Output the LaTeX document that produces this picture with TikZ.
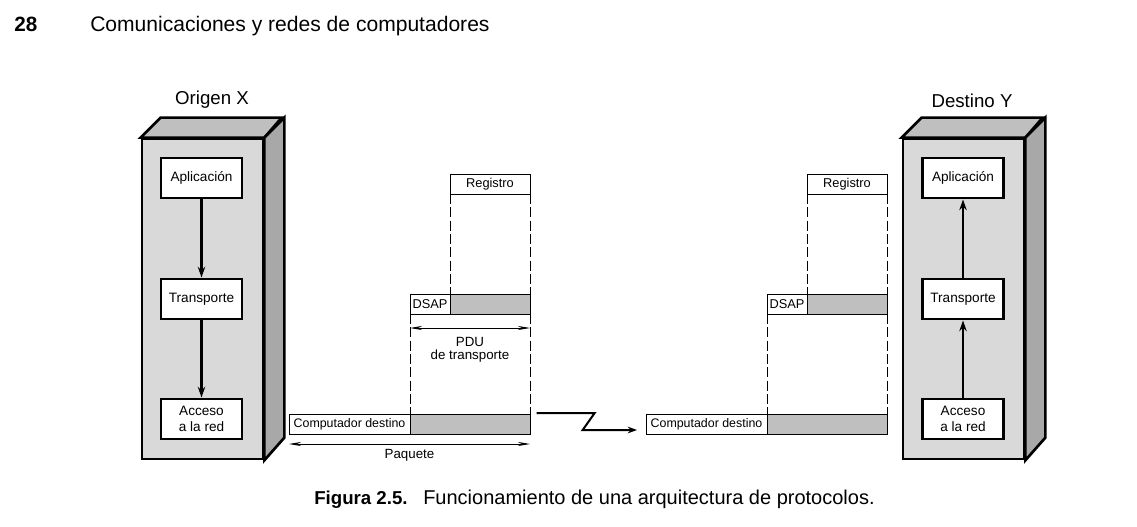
\documentclass[tikz,border=0pt]{standalone}
\usepackage{fontspec}
\setmainfont{Liberation Sans}
\usetikzlibrary{arrows.meta,positioning}

\begin{document}
\begin{tikzpicture}[x=0.75pt, y=-0.75pt, host/.style={draw, line width=2pt, fill=gray!30, minimum width=90.75pt, minimum height=240pt, inner sep=0pt}, topface/.style={draw, line width=2pt, fill=gray!50}, sideface/.style={draw, line width=2pt, fill=gray!68}, layer/.style={draw, line width=2.2pt, fill=white, align=center, minimum width=60.75pt, minimum height=30pt, inner sep=1pt, font=\fontsize{10.2}{11.5}\selectfont}, cell/.style={draw, line width=0.6pt, fill=white, minimum height=15pt, inner sep=1pt, outer sep=0pt, font=\fontsize{9.6}{11}\selectfont}, data/.style={cell, fill=gray!50}, addr/.style={cell, minimum width=90.75pt, font=\fontsize{9.3}{10}\selectfont}, guide/.style={line width=0.6pt, dash pattern=on 7.5pt off 2.5pt}, arr/.style={-{Stealth[length=8pt,width=5.5pt]}, line width=1.8pt}, dim/.style={{Stealth[length=9pt,width=3pt]}-{Stealth[length=9pt,width=3pt]}, line width=0.6pt}, title/.style={font=\fontsize{14}{16}\selectfont}]
\useasboundingbox (0,0) rectangle (1137,527);
% page header
\node[anchor=base west, inner sep=0pt, font=\bfseries\fontsize{15.5}{18}\selectfont] (pagenum) at (14,32) {28};
\node[anchor=base west, inner sep=0pt, font=\fontsize{15.8}{18}\selectfont] (running) at (90,32) {Comunicaciones y redes de computadores};
% hosts
\node[host] (origen) at (202.5,299) {};
\draw[topface] (origen.north west) -- ++(20,-20) -- ++(121,0) -- (origen.north east) -- cycle;
\draw[sideface] (origen.north east) -- ++(20,-20) -- ++(0,320) -- (origen.south east) -- cycle;
\node[title] (titX) at (212,100) {Origen X};
\node[host] (destino) at (963.5,299) {};
\draw[topface] (destino.north west) -- ++(20,-20) -- ++(121,0) -- (destino.north east) -- cycle;
\draw[sideface] (destino.north east) -- ++(20,-20) -- ++(0,320) -- (destino.south east) -- cycle;
\node[title] (titY) at (972,101) {Destino Y};
% layers
\node[layer] (apX) at (201.5,178) {Aplicación};
\node[layer] (trX) at (201.5,299) {Transporte};
\node[layer] (acX) at (201.5,419) {Acceso\\a la red};
\node[layer] (apY) at (963,178) {Aplicación};
\node[layer] (trY) at (963,299) {Transporte};
\node[layer] (acY) at (963,419) {Acceso\\a la red};
\draw[arr] (apX) -- (trX);
\draw[arr] (trX) -- (acX);
\draw[arr] (acY) -- (trY);
\draw[arr] (trY) -- (apY);
% PDUs at the sender
\node[cell, minimum width=60pt] (regX) at (490,184) {Registro};
\node[cell, minimum width=30pt] (dsapX) at (430,304) {DSAP};
\node[data, minimum width=60pt, right=0pt of dsapX] (pduX) {};
\node[addr] (addrX) at (349.5,424) {Computador destino};
\node[data, minimum width=90pt, right=0pt of addrX] (dataX) {};
\draw[guide] (regX.south west) -- (pduX.north west);
\draw[guide] (regX.south east) -- (pduX.north east);
\draw[guide] (dsapX.south west) -- (dataX.north west);
\draw[guide] (pduX.south east) -- (dataX.north east);
\draw[dim] ([yshift=-10.5pt]dsapX.south west) -- node[below=3pt, align=center, font=\fontsize{10}{10}\selectfont]{PDU\\de transporte} ([yshift=-10.5pt]pduX.south east);
\draw[dim] ([yshift=-7.5pt]addrX.south west) -- node[below=0.5pt, font=\fontsize{10}{12}\selectfont]{Paquete} ([yshift=-7.5pt]dataX.south east);
% PDUs at the receiver
\node[cell, minimum width=60pt] (regY) at (847,184) {Registro};
\node[cell, minimum width=30pt] (dsapY) at (787,304) {DSAP};
\node[data, minimum width=60pt, right=0pt of dsapY] (pduY) {};
\node[addr] (addrY) at (706.5,424) {Computador destino};
\node[data, minimum width=90pt, right=0pt of addrY] (dataY) {};
\draw[guide] (regY.south west) -- (pduY.north west);
\draw[guide] (regY.south east) -- (pduY.north east);
\draw[guide] (dsapY.south west) -- (dataY.north west);
\draw[guide] (pduY.south east) -- (dataY.north east);
% network link
\draw[line width=1.5pt, -{Stealth[length=7pt,width=5pt]}] ([xshift=5pt,yshift=0.75pt]dataX.north east) -- ++(58,0) -- ++(-12,17) -- ([xshift=-6.75pt,yshift=-4.5pt]addrY.west);
% caption
\node[anchor=base west, inner sep=0pt, font=\bfseries\fontsize{14}{16}\selectfont] (fignum) at (314,504) {Figura 2.5.};
\node[anchor=base west, inner sep=0pt, font=\fontsize{15}{17}\selectfont] (figcap) at (423,504) {Funcionamiento de una arquitectura de protocolos.};
\end{tikzpicture}
\end{document}
